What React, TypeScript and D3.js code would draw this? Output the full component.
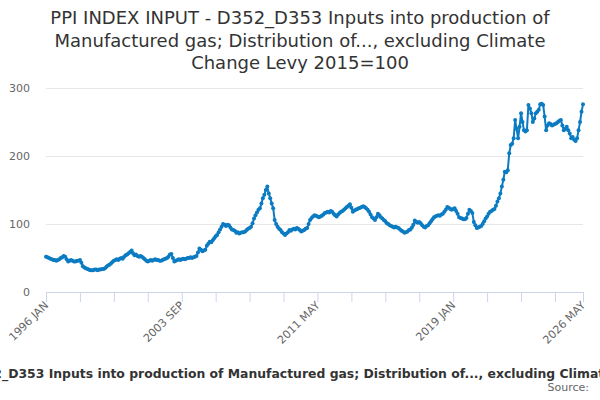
import React from "react";
import * as d3 from "d3";

const MONTHS = ["JAN","FEB","MAR","APR","MAY","JUN","JUL","AUG","SEP","OCT","NOV","DEC"];
const startYear = 1996;

const v1996 = [52, 51, 50, 49, 48, 47, 47, 46, 47, 48, 50, 51];
const v1997 = [53, 52, 48, 45, 46, 47, 46, 45, 45, 46, 46, 47];
const v1998 = [43, 38, 36, 35, 34, 33, 32, 32, 32, 33, 33, 32];
const v1999 = [33, 33, 34, 34, 35, 37, 39, 40, 42, 44, 46, 47];
const v2000 = [48, 47, 49, 50, 49, 52, 54, 55, 57, 59, 61, 57];
const v2001 = [54, 55, 53, 52, 53, 52, 50, 48, 46, 45, 46, 47];
const v2002 = [46, 47, 48, 47, 47, 46, 46, 47, 48, 49, 50, 52];
const v2003 = [55, 56, 50, 45, 46, 47, 48, 47, 48, 49, 48, 49];
const v2004 = [50, 50, 51, 50, 51, 52, 53, 58, 64, 62, 60, 61];
const v2005 = [62, 68, 71, 74, 73, 76, 79, 82, 84, 88, 92, 96];
const v2006 = [100, 99, 97, 99, 98, 95, 92, 91, 90, 87, 88, 86];
const v2007 = [87, 88, 88, 89, 91, 93, 94, 96, 101, 108, 113, 117];
const v2008 = [121, 123, 130, 138, 143, 150, 155, 145, 138, 130, 123, 106];
const v2009 = [100, 96, 93, 91, 88, 86, 84, 86, 88, 91, 90, 92];
const v2010 = [93, 92, 94, 93, 91, 89, 90, 91, 93, 94, 100, 106];
const v2011 = [109, 111, 113, 112, 111, 110, 111, 112, 114, 116, 117, 118];
const v2012 = [117, 119, 118, 115, 113, 111, 114, 116, 118, 119, 121, 123];
const v2013 = [125, 127, 129, 124, 118, 120, 121, 122, 123, 124, 125, 126];
const v2014 = [125, 123, 121, 118, 114, 110, 108, 106, 110, 115, 113, 110];
const v2015 = [108, 106, 104, 101, 100, 98, 97, 96, 95, 96, 95, 94];
const v2016 = [92, 90, 89, 87, 88, 89, 91, 92, 95, 99, 105, 103];
const v2017 = [102, 103, 101, 98, 96, 95, 97, 98, 101, 104, 107, 110];
const v2018 = [111, 112, 113, 112, 114, 115, 118, 121, 125, 124, 122, 121];
const v2019 = [122, 123, 119, 115, 110, 109, 108, 107, 107, 109, 115, 121];
const v2020 = [119, 116, 103, 98, 94, 95, 96, 97, 100, 104, 108, 111];
const v2021 = [115, 118, 119, 121, 122, 127, 133, 138, 145, 155, 165, 177];
const v2022 = [176, 179, 204, 216, 218, 226, 253, 240, 226, 243, 263, 250];
const v2023 = [238, 236, 238, 275, 270, 263, 250, 255, 263, 265, 268, 276];
const v2024 = [277, 275, 258, 238, 245, 248, 247, 245, 246, 247, 248, 250];
const v2025 = [252, 253, 245, 238, 240, 243, 238, 233, 226, 228, 224, 222];
const v2026 = [226, 238, 250, 265, 276];

const values: number[] = [
  ...v1996, ...v1997, ...v1998, ...v1999, ...v2000, ...v2001, ...v2002, ...v2003,
  ...v2004, ...v2005, ...v2006, ...v2007, ...v2008, ...v2009, ...v2010, ...v2011,
  ...v2012, ...v2013, ...v2014, ...v2015, ...v2016, ...v2017, ...v2018, ...v2019,
  ...v2020, ...v2021, ...v2022, ...v2023, ...v2024, ...v2025, ...v2026,
];

const categories: string[] = values.map((_, i) =>
  `${startYear + Math.floor(i / 12)} ${MONTHS[i % 12]}`
);

const yTicks = [0, 100, 200, 300];
const tickStep = 23;
const labelStep = 92;

const titleLines = [
  "PPI INDEX INPUT - D352_D353 Inputs into production of",
  "Manufactured gas; Distribution of..., excluding Climate",
  "Change Levy 2015=100",
];
const seriesName =
  "PPI INDEX INPUT - D352_D353 Inputs into production of Manufactured gas; Distribution of..., excluding Climate Change Levy 2015=100";

const FONT = "'DejaVu Sans', sans-serif";

export default function App() {
  const W = 600, H = 400;
  const left = 46, right = 583, top = 88, bottom = 292;
  const n = values.length;
  const x = d3.scaleLinear().domain([0, n - 1]).range([left, right]);
  const y = d3.scaleLinear().domain([0, 300]).range([bottom, top]);
  const line = d3.line<number>().x((_, i) => x(i)).y((d) => y(d));

  const tickIdx: number[] = [];
  for (let i = 0; i < n; i += tickStep) tickIdx.push(i);
  if (tickIdx[tickIdx.length - 1] !== n - 1) tickIdx.push(n - 1);
  const labelIdx: number[] = [];
  for (let i = 0; i < n; i += labelStep) labelIdx.push(i);
  if (labelIdx[labelIdx.length - 1] !== n - 1) labelIdx.push(n - 1);

  const color = "#0b7bc2";

  return (
    <svg width={W} height={H} style={{ position: "absolute", left: 0, top: 0, background: "#fff" }} fontFamily={FONT}>
      <rect width={W} height={H} fill="#fff" />
      {titleLines.map((t, i) => (
        <text key={i} x={300} y={24 + i * 22.5} textAnchor="middle" fontSize={18} fill="#333">{t}</text>
      ))}
      {yTicks.map((t) => (
        <g key={t}>
          {t !== 0 && <line x1={left} x2={right} y1={y(t) + 0.5} y2={y(t) + 0.5} stroke="#e6e6e6" strokeWidth={1} />}
          <text x={30} y={y(t) + 4} textAnchor="end" fontSize={11} fill="#666">{t}</text>
        </g>
      ))}
      <line x1={left} x2={right} y1={bottom + 0.5} y2={bottom + 0.5} stroke="#ccd6eb" strokeWidth={1} />
      {tickIdx.map((i) => (
        <line key={i} x1={x(i) + 0.5} x2={x(i) + 0.5} y1={bottom} y2={bottom + 10} stroke="#ccd6eb" strokeWidth={1} />
      ))}
      {labelIdx.map((i) => (
        <text key={i} transform={`translate(${x(i) + 3},${bottom + 14}) rotate(-45)`} textAnchor="end" fontSize={11} fill="#666">
          {categories[i]}
        </text>
      ))}
      <path d={line(values) || ""} fill="none" stroke={color} strokeWidth={2} strokeLinejoin="round" />
      {values.map((v, i) => (
        <circle key={i} cx={x(i)} cy={y(v)} r={2} fill={color} />
      ))}
      <text x={308} y={377.5} textAnchor="middle" fontSize={12.4} fontWeight="bold" fill="#333">{seriesName}</text>
      <text x={589} y={390.5} textAnchor="end" fontSize={11} fill="#666">Source:</text>
    </svg>
  );
}
